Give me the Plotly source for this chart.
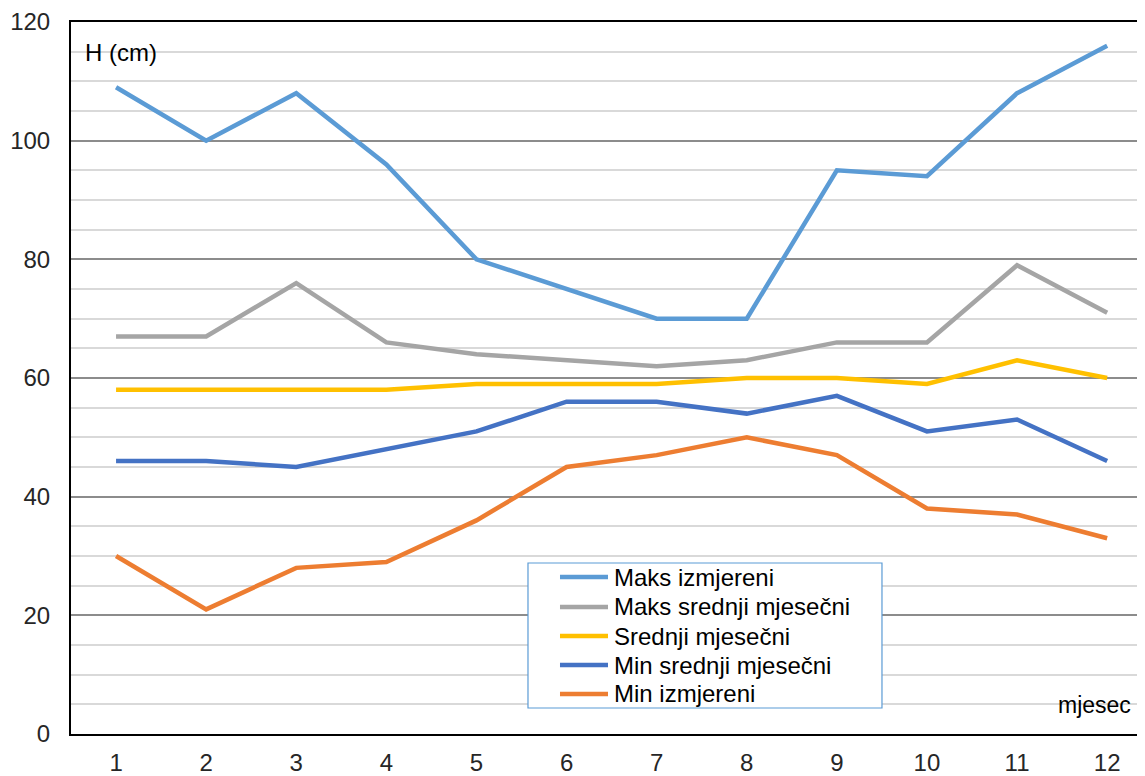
import plotly.graph_objects as go

months = list(range(1, 13))
maks_izmjereni = [109, 100, 108, 96, 80, 75, 70, 70, 95, 94, 108, 116]
maks_srednji = [67, 67, 76, 66, 64, 63, 62, 63, 66, 66, 79, 71]
srednji = [58, 58, 58, 58, 59, 59, 59, 60, 60, 59, 63, 60]
min_srednji = [46, 46, 45, 48, 51, 56, 56, 54, 57, 51, 53, 46]
min_izmjereni = [30, 21, 28, 29, 36, 45, 47, 50, 47, 38, 37, 33]

series = [
    ("Maks izmjereni", maks_izmjereni, "#5B9BD5"),
    ("Maks srednji mjesečni", maks_srednji, "#A5A5A5"),
    ("Srednji mjesečni", srednji, "#FFC000"),
    ("Min srednji mjesečni", min_srednji, "#4472C4"),
    ("Min izmjereni", min_izmjereni, "#ED7D31"),
]

fig = go.Figure()
for name, vals, col in series:
    fig.add_trace(go.Scatter(x=months, y=vals, name=name, mode="lines",
                             line=dict(color=col, width=4.5), showlegend=False))

# page body adds an 8px margin, so the figure is a bit smaller than the window
fig.update_layout(
    width=1137, height=768,
    margin=dict(l=63, r=0, t=14, b=42, autoexpand=False),
    paper_bgcolor="white", plot_bgcolor="white",
    font=dict(family="Liberation Sans, Arial", size=24, color="#262626"),
)
tickfont = dict(family="Liberation Sans, Arial", size=24, color="#262626")
fig.update_xaxes(range=[0.5, 12.42], tickmode="array", tickvals=months,
                 tickfont=tickfont,
                 showgrid=False, showline=True, linecolor="black", linewidth=2,
                 mirror=True, ticks="", ticklabelstandoff=6, automargin=False)
fig.update_yaxes(range=[0, 120], dtick=20, tickfont=tickfont,
                 showgrid=True, gridcolor="#8c8c8c",
                 gridwidth=1.5, zeroline=False,
                 minor=dict(dtick=5, showgrid=True, gridcolor="#d9d9d9", gridwidth=1.5),
                 showline=True, linecolor="black", linewidth=2, mirror=True,
                 ticks="", ticklabelstandoff=14, automargin=False)

# legend box drawn by hand (Excel-style compact rows)
fig.add_shape(type="rect", xref="paper", yref="paper",
              x0=0.4255, x1=0.7551, y0=0.0365, y1=0.2402,
              fillcolor="white", line=dict(color="#5B9BD5", width=1.2), layer="above")
row_y = [0.2205, 0.1784, 0.1376, 0.0969, 0.0562]
for (name, vals, col), yy in zip(series, row_y):
    fig.add_shape(type="line", xref="paper", yref="paper",
                  x0=0.4553, x1=0.5, y0=yy, y1=yy,
                  line=dict(color=col, width=4.5), layer="above")
    fig.add_annotation(x=0.5037, y=yy, xref="paper", yref="paper", text=name,
                       showarrow=False, xanchor="left", yanchor="middle",
                       font=dict(size=24, color="#000000"))

fig.add_annotation(x=0.0112, y=0.9565, xref="paper", yref="paper", text="H (cm)",
                   showarrow=False, xanchor="left", yanchor="middle",
                   font=dict(size=24, color="#000000"))
fig.add_annotation(x=0.9888, y=0.0407, xref="paper", yref="paper", text="mjesec",
                   showarrow=False, xanchor="right", yanchor="middle",
                   font=dict(size=23, color="#000000"))

fig.write_html("out.html")
